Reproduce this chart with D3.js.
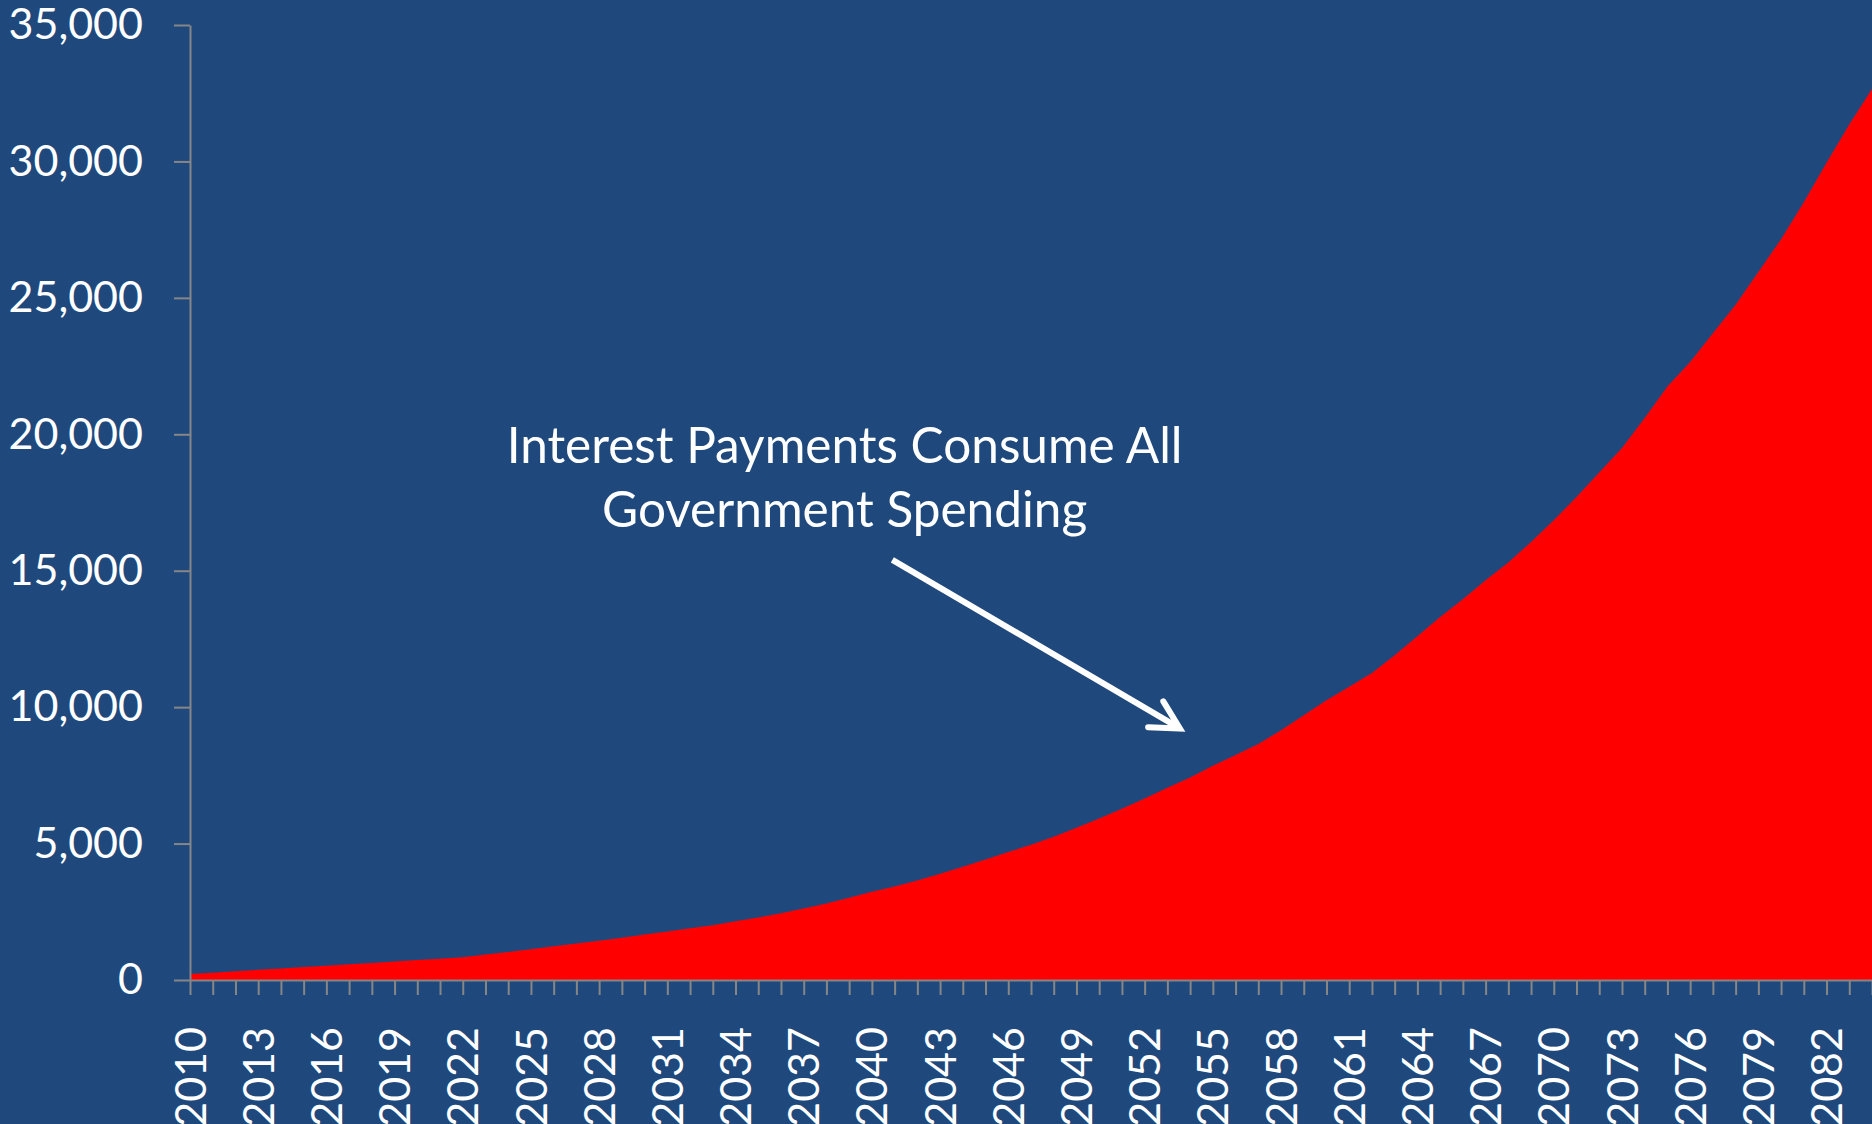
<!DOCTYPE html>
<html>
<head>
<meta charset="utf-8">
<script src="https://cdn.jsdelivr.net/npm/d3@7"></script>
<style>
  body { margin: 0; background: #1f497d; }
  svg { display: block; }
  text { font-family: Lato, "Open Sans", sans-serif; fill: #ffffff; }
</style>
</head>
<body>
<div id="chart"></div>
<script>
// years on the category axis
var years = d3.range(2010, 2085);

// interest payments
var payments = [
  220, 270, 320, 375, 425, 475, 525, 575, 625, 680,
  730, 780, 830, 930, 1030, 1130, 1235, 1335, 1440, 1550,
  1665, 1780, 1895, 2010, 2150, 2290, 2450, 2620, 2800, 3010,
  3230, 3430, 3650, 3890, 4150, 4420, 4690, 4960, 5250, 5580,
  5920, 6280, 6650, 7050, 7420, 7850, 8250, 8650, 9150, 9700,
  10250, 10750, 11250, 11900, 12600, 13300, 13950, 14650, 15300, 16050,
  16850, 17700, 18600, 19500, 20600, 21750, 22650, 23700, 24750, 25950,
  27150, 28500, 29950, 31350, 32650
];

var yTicks = [0, 5000, 10000, 15000, 20000, 25000, 30000, 35000];

var noteLines = ["Interest Payments Consume All", "Government Spending"];
// annotation anchors in data units: [year, value]
var notePos = [2038.8, 18930];
var arrowFrom = [2040.9, 15400];
var arrowTo = [2053.55, 9220];

const width = 1872, height = 1124;
const margin = {top: 25, right: 0, bottom: 144, left: 190};
const axisColor = "#868686";

const svg = d3.select("#chart").append("svg")
    .attr("width", width)
    .attr("height", height);

svg.append("rect").attr("width", width).attr("height", height).attr("fill", "#1f497d");

const x = d3.scaleLinear()
    .domain([years[0], years[years.length - 1]])
    .range([margin.left, width - margin.right]);

const y = d3.scaleLinear()
    .domain([0, 35000])
    .range([height - margin.bottom, margin.top]);

const data = years.map((yr, i) => ({year: yr, value: payments[i]}));

// red area
const area = d3.area()
    .x(d => x(d.year))
    .y0(y(0))
    .y1(d => y(d.value));

svg.append("path")
    .datum(data)
    .attr("fill", "#ff0000")
    .attr("d", area);

// y axis
const gy = svg.append("g")
    .attr("transform", `translate(${margin.left},0)`)
    .call(d3.axisLeft(y)
        .tickValues(yTicks)
        .tickFormat(d3.format(","))
        .tickSize(16)
        .tickSizeOuter(0)
        .tickPadding(31));

gy.selectAll("text")
    .style("font-size", "43px")
    .attr("fill", "#ffffff");

// x axis, a tick per year, a label every third year
const gx = svg.append("g")
    .attr("transform", `translate(0,${y(0)})`)
    .call(d3.axisBottom(x)
        .tickValues(years)
        .tickFormat(d => (d - 2010) % 3 == 0 ? d : "")
        .tickSize(15)
        .tickSizeOuter(0));

gx.selectAll("text")
    .style("font-size", "43px")
    .style("text-anchor", "end")
    .attr("fill", "#ffffff")
    .attr("transform", "rotate(-90)")
    .attr("x", -47)
    .attr("y", 0)
    .attr("dy", "0.35em");

svg.selectAll(".domain, .tick line")
    .attr("stroke", axisColor)
    .attr("stroke-width", 2);

// annotation
const note = svg.append("text")
    .attr("x", x(notePos[0]))
    .attr("y", y(notePos[1]))
    .style("font-size", "49.5px")
    .style("text-anchor", "middle");

note.selectAll("tspan")
    .data(noteLines)
    .join("tspan")
    .attr("x", x(notePos[0]))
    .attr("dy", (d, i) => i == 0 ? 0 : 64)
    .text(d => d);

svg.append("defs").append("marker")
    .attr("id", "head")
    .attr("viewBox", "-40 -40 80 80")
    .attr("refX", 0)
    .attr("refY", 0)
    .attr("markerWidth", 80)
    .attr("markerHeight", 80)
    .attr("markerUnits", "userSpaceOnUse")
    .attr("orient", "auto")
    .append("path")
    .attr("d", "M-28,-15 L0,0 L-28,15")
    .attr("fill", "none")
    .attr("stroke", "#ffffff")
    .attr("stroke-width", 6)
    .attr("stroke-linecap", "round")
    .attr("stroke-linejoin", "miter");

svg.append("line")
    .attr("x1", x(arrowFrom[0]))
    .attr("y1", y(arrowFrom[1]))
    .attr("x2", x(arrowTo[0]))
    .attr("y2", y(arrowTo[1]))
    .attr("stroke", "#ffffff")
    .attr("stroke-width", 6)
    .attr("marker-end", "url(#head)");
</script>
</body>
</html>
